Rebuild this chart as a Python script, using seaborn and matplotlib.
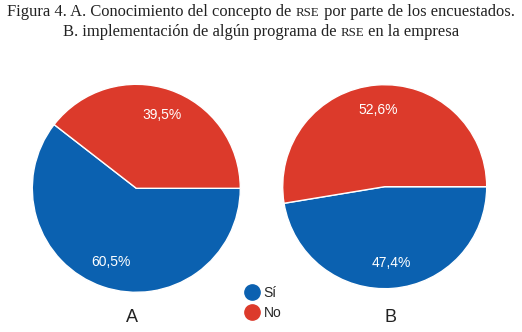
import matplotlib
matplotlib.use("Agg")
import matplotlib.pyplot as plt
import seaborn as sns
import numpy as np
from matplotlib.lines import Line2D

sns.set_theme(style="white")
plt.rcParams['font.family'] = ['Liberation Sans', 'DejaVu Sans']

categories = ["Sí", "No"]
values_a = [60.5, 39.5]
values_b = [47.4, 52.6]
pct_labels_a = ["60,5%", "39,5%"]
pct_labels_b = ["47,4%", "52,6%"]
panel_labels = ["A", "B"]
# title pieces: (text, is_small_caps)
title_line1 = [("Figura 4. A. Conocimiento del concepto de ", False), ("RSE", True),
               (" por parte de los encuestados.", False)]
title_line2 = [("B. implementación de algún programa de ", False), ("RSE", True),
               (" en la empresa", False)]

colors = sns.color_palette(["#0b61b0", "#dc3a2b"])

W, H = 522, 332
fig = plt.figure(figsize=(W / 100, H / 100), dpi=100)
fig.patch.set_facecolor("white")


def add_pie(cx, cy, r, values, labels):
    ax = fig.add_axes([(cx - r) / W, (H - cy - r) / H, 2 * r / W, 2 * r / H])
    start = 360 * values[1] / 100.0
    wedges, texts = ax.pie(values, colors=colors, startangle=start, counterclock=True,
                           radius=1, wedgeprops=dict(edgecolor="white", linewidth=1))
    for w, lab in zip(wedges, labels):
        ang = np.deg2rad((w.theta1 + w.theta2) / 2)
        ax.text(0.75 * np.cos(ang), 0.75 * np.sin(ang), lab, ha="center", va="center",
                color="white", fontsize=10)
    ax.set_xlim(-1, 1)
    ax.set_ylim(-1, 1)
    ax.set_aspect("equal")
    ax.axis("off")
    return ax


add_pie(136.3, 188.3, 104, values_a, pct_labels_a)
add_pie(384.7, 186.7, 102, values_b, pct_labels_b)

fig.text(131.7 / W, 1 - 318 / H, panel_labels[0], ha="center", va="center", fontsize=13, color="#222222")
fig.text(390 / W, 1 - 318 / H, panel_labels[1], ha="center", va="center", fontsize=13, color="#222222")

handles = [Line2D([0], [0], marker="o", linestyle="none", markersize=11,
                  markerfacecolor=c, markeredgecolor=c) for c in colors]
fig.legend(handles, categories, loc="center left", bbox_to_anchor=(244 / W, 1 - 303 / H),
           frameon=False, fontsize=10, handletextpad=0.2, labelspacing=0.45,
           handlelength=1.2, borderpad=0, borderaxespad=0)

# title with small caps RSE
renderer = fig.canvas.get_renderer()
base_size = 11.85
sc_size = base_size * 0.78


def draw_line(pieces, ycenter_px):
    texts = []
    widths = []
    for txt, sc in pieces:
        t = fig.text(0, 1 - ycenter_px / H, txt, ha="left", va="baseline",
                     family=["Liberation Serif"], fontsize=sc_size if sc else base_size,
                     color="#222222")
        bb = t.get_window_extent(renderer=renderer)
        texts.append(t)
        widths.append(bb.width)
    total = sum(widths)
    x = (W - total) / 2
    for t, w in zip(texts, widths):
        t.set_x(x / W)
        x += w


draw_line(title_line1, 15.5)
draw_line(title_line2, 35.5)

fig.savefig("out.png", dpi=100, facecolor="white")
